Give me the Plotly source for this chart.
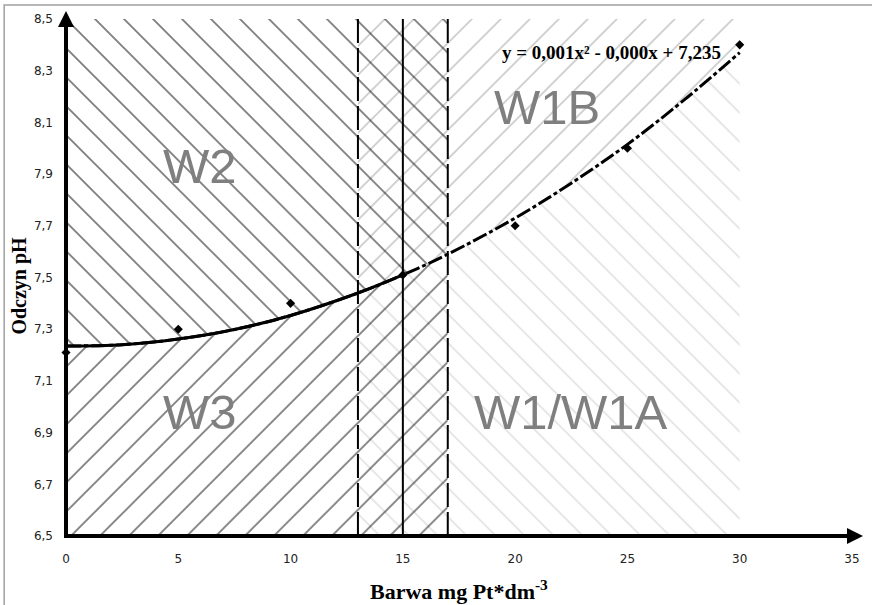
import plotly.graph_objects as go

# ---------------- data ----------------
obs_x = [0, 5, 10, 15, 20, 25, 30]
obs_y = [7.21, 7.30, 7.40, 7.51, 7.70, 8.00, 8.40]

# polynomial trend line
trend_x = [0, 2.5, 5, 7.5, 10, 13, 15, 17, 20, 22.5, 25, 27.5, 30]
trend_y = [7.235, 7.240, 7.262, 7.299, 7.353, 7.440, 7.510, 7.590, 7.730, 7.865, 8.015, 8.185, 8.370]

x_ticks = [0, 5, 10, 15, 20, 25, 30, 35]
y_ticks = [6.5, 6.7, 6.9, 7.1, 7.3, 7.5, 7.7, 7.9, 8.1, 8.3, 8.5]
y_tick_labels = ["6,5", "6,7", "6,9", "7,1", "7,3", "7,5", "7,7", "7,9", "8,1", "8,3", "8,5"]

zone_black = (0, 17)      # W2 / W3 hatched region
zone_gray = (13, 30)      # W1B / W1A hatched region
dashed_bounds = [13, 17]
solid_bounds = [15]

zone_labels = ["W2", "W3", "W1B", "W1/W1A"]
zone_label_x = [5.95, 5.95, 21.4, 22.5]
zone_label_y = [7.93, 6.98, 8.16, 6.98]

equation = "y = 0,001x² - 0,000x + 7,235"
x_title = "<b>Barwa mg Pt*dm<sup>-3</sup></b>"
y_title = "<b>Odczyn pH</b>"

Y_MIN, Y_MAX = 6.5, 8.5
X_MIN, X_MAX = 0, 35

W, H = 872, 605
ML, MR, MT, MB = 66, 18, 18, 69


def band(x0, x1, upper):
    xs = [x for x in trend_x if x0 <= x <= x1]
    ys = [y for x, y in zip(trend_x, trend_y) if x0 <= x <= x1]
    edge = Y_MAX if upper else Y_MIN
    return xs + [x1, x0, xs[0]], ys + [edge, edge, ys[0]]


def hatch_trace(xs, ys, shape, color, solidity):
    return go.Scatter(
        x=xs, y=ys, mode="lines", fill="toself",
        line=dict(width=0, color="rgba(0,0,0,0)"),
        fillcolor="rgba(255,255,255,0)",
        fillpattern=dict(shape=shape, fgcolor=color, bgcolor="rgba(255,255,255,0)",
                         size=20.5, solidity=solidity, fillmode="overlay"),
        hoverinfo="skip", showlegend=False,
    )


fig = go.Figure()

# hatched zones
bx, by = band(*zone_gray, upper=False)
fig.add_trace(hatch_trace(bx, by, "\\", "#c8c8c8", 0.085))
bx, by = band(*zone_gray, upper=True)
fig.add_trace(hatch_trace(bx, by, "/", "#9a9a9a", 0.085))
bx, by = band(*zone_black, upper=True)
fig.add_trace(hatch_trace(bx, by, "\\", "#000000", 0.09))
bx, by = band(*zone_black, upper=False)
fig.add_trace(hatch_trace(bx, by, "/", "#000000", 0.09))

# zone boundaries
for xb in dashed_bounds:
    fig.add_trace(go.Scatter(x=[xb, xb], y=[Y_MIN, Y_MAX], mode="lines",
                             line=dict(color="black", width=2, dash="24px,5px"),
                             hoverinfo="skip", showlegend=False))
for xb in solid_bounds:
    fig.add_trace(go.Scatter(x=[xb, xb], y=[Y_MIN, Y_MAX], mode="lines",
                             line=dict(color="black", width=2),
                             hoverinfo="skip", showlegend=False))

# trend line: dash-dot over whole range, solid on the left part
fig.add_trace(go.Scatter(x=trend_x, y=trend_y, mode="lines",
                         line=dict(color="black", width=3, shape="spline",
                                   dash="15px,3px,4px,3px"),
                         hoverinfo="skip", showlegend=False))
sx = [x for x in trend_x if x <= 15]
sy = [y for x, y in zip(trend_x, trend_y) if x <= 15]
fig.add_trace(go.Scatter(x=sx, y=sy, mode="lines",
                         line=dict(color="black", width=3, shape="spline"),
                         hoverinfo="skip", showlegend=False))

# observations
fig.add_trace(go.Scatter(x=obs_x, y=obs_y, mode="markers",
                         marker=dict(symbol="diamond", size=7, color="black"),
                         cliponaxis=False, showlegend=False))

# zone labels
for t, lx, ly in zip(zone_labels, zone_label_x, zone_label_y):
    fig.add_annotation(x=lx, y=ly, text=t, showarrow=False,
                       xanchor="center", yanchor="middle",
                       font=dict(family="Liberation Sans", size=49, color="#7f7f7f"))

fig.add_annotation(x=24.3, y=8.372, text="<b>" + equation + "</b>", showarrow=False,
                   xanchor="center", yanchor="middle",
                   font=dict(family="Liberation Serif", size=19, color="black"))

pw, ph = W - ML - MR, H - MT - MB

# axis titles
fig.add_annotation(xref="paper", yref="paper", x=(460 - ML) / pw, y=(536 - 590) / ph,
                   xanchor="center", yanchor="middle",
                   text=x_title, showarrow=False,
                   font=dict(family="Liberation Serif", size=22, color="black"))
fig.add_annotation(xref="paper", yref="paper", x=(19 - ML) / pw,
                   y=(536 - 285) / ph, text=y_title, textangle=-90,
                   xanchor="center", yanchor="middle", showarrow=False,
                   font=dict(family="Liberation Serif", size=20, color="black"))

# axes with arrows
fig.add_shape(type="line", xref="paper", yref="paper", x0=0, x1=1, y0=0, y1=0,
              line=dict(color="black", width=4))
fig.add_shape(type="line", xref="paper", yref="paper", x0=0, x1=0, y0=-2 / ph, y1=1,
              line=dict(color="black", width=4))
fig.add_annotation(xref="paper", yref="paper", x=1 + 11 / pw, y=0, ax=-24, ay=0,
                   text="", showarrow=True, arrowhead=2, arrowwidth=4, arrowsize=0.8,
                   arrowcolor="black")
fig.add_annotation(xref="paper", yref="paper", x=0, y=1 + 8 / ph, ax=0, ay=24,
                   text="", showarrow=True, arrowhead=2, arrowwidth=4, arrowsize=0.8,
                   arrowcolor="black")

# outer frame (top and left edges visible)
fig.add_shape(type="rect", xref="paper", yref="paper",
              x0=(4 - ML) / pw, x1=1.1, y0=-0.3, y1=(H - MB - 4) / ph,
              line=dict(color="#a0a0a0", width=1.5), layer="below")

fig.update_layout(
    width=W, height=H,
    margin=dict(l=ML, r=MR, t=MT, b=MB),
    paper_bgcolor="white", plot_bgcolor="white",
    showlegend=False,
    xaxis=dict(range=[X_MIN, X_MAX], tickvals=x_ticks, ticktext=[str(v) for v in x_ticks],
               showgrid=False, zeroline=False, showline=False, ticks="",
               ticklabelstandoff=14,
               tickfont=dict(family="DejaVu Sans", size=12, color="#222")),
    yaxis=dict(range=[Y_MIN, Y_MAX], tickvals=y_ticks, ticktext=y_tick_labels,
               showgrid=False, zeroline=False, showline=False, ticks="",
               ticklabelstandoff=12,
               tickfont=dict(family="DejaVu Sans", size=12, color="#222")),
)

fig.write_html("out.html")
